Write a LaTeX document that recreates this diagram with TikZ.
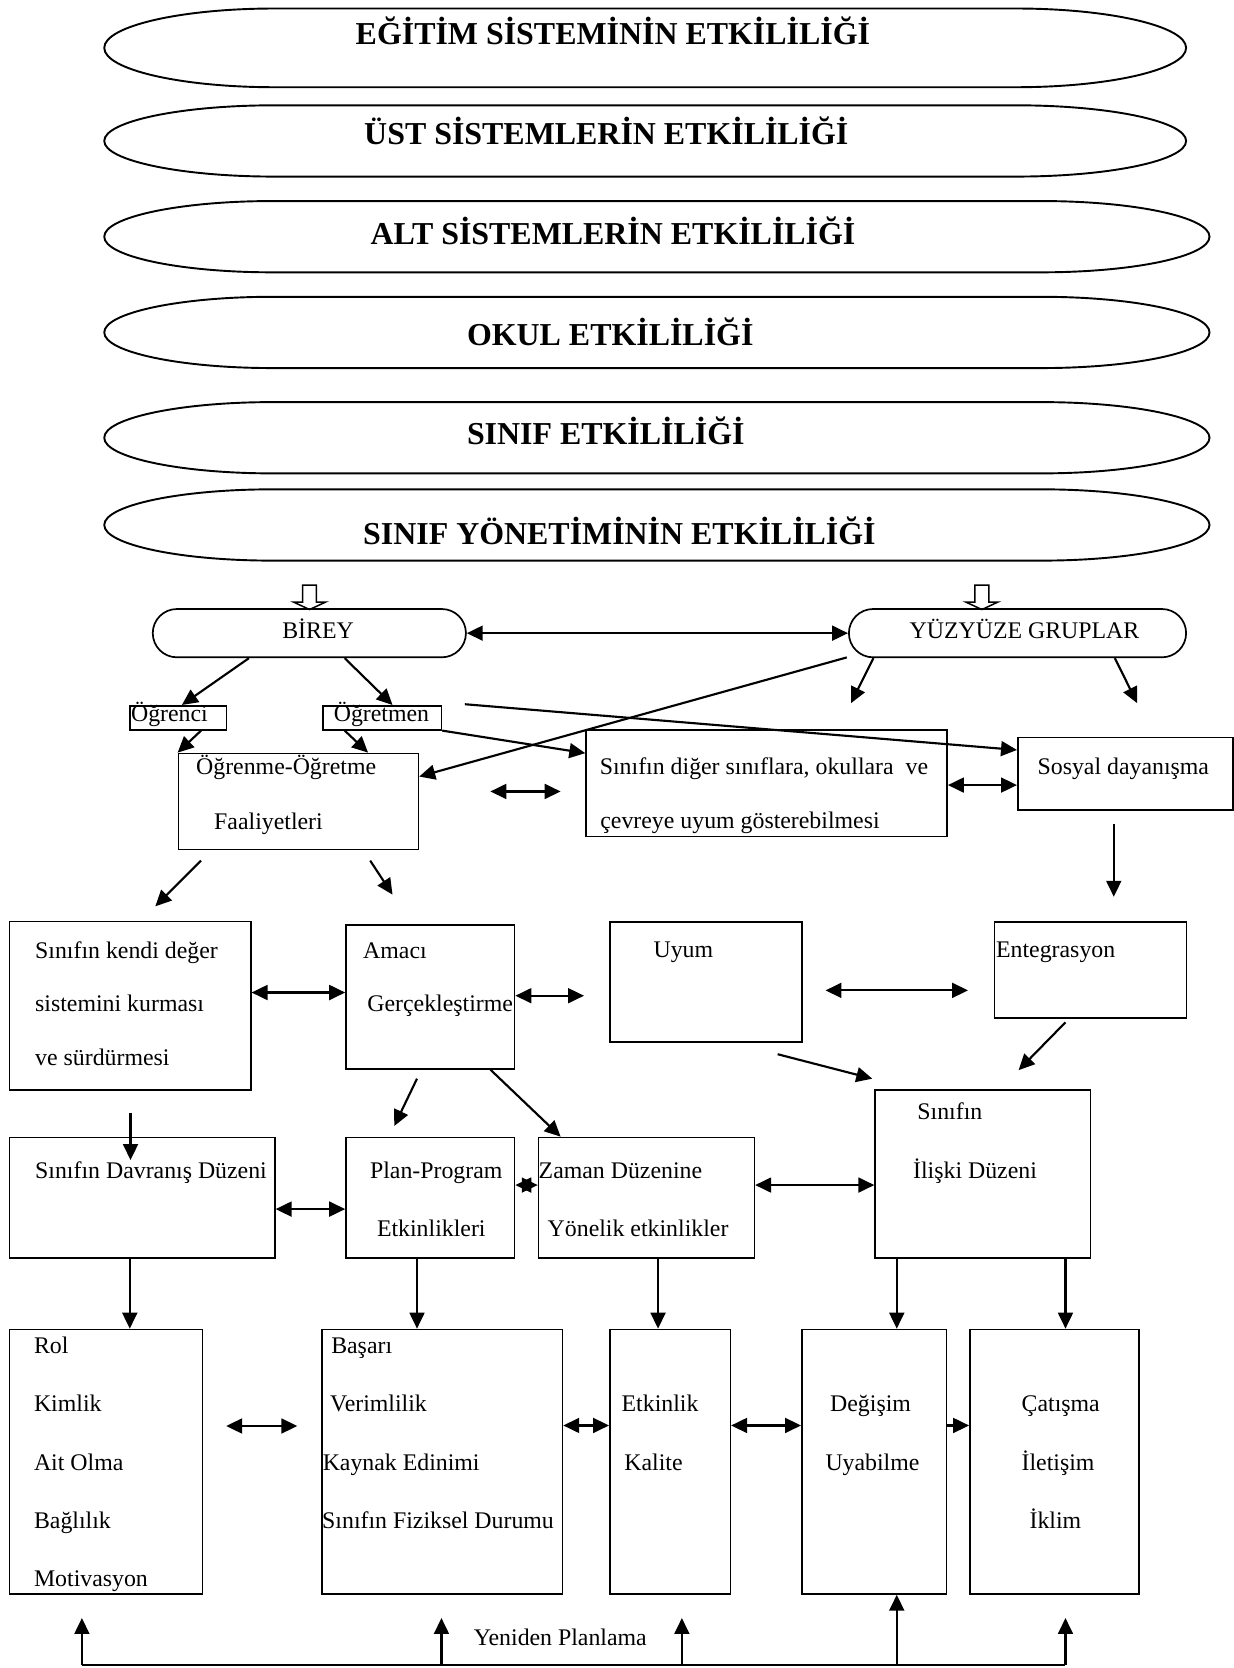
\documentclass[tikz,border=0pt]{standalone}
\usepackage{fontspec}
\setmainfont{Liberation Serif}
\usetikzlibrary{arrows.meta,shapes.misc,calc}
\tikzset{
  box/.style={draw, line width=0.75pt, inner sep=0pt, anchor=north west},
  lbl/.style={anchor=base west, inner sep=0pt, font=\fontsize{11.2pt}{13pt}\selectfont},
  ttl/.style={anchor=base west, inner sep=0pt, font=\fontsize{15pt}{18pt}\selectfont\bfseries},
  ovl/.style={line width=0.9pt},
  con/.style={line width=1pt, -{Triangle[length=7.5pt,width=7pt]}},
  dcon/.style={line width=1pt, {Triangle[length=7.5pt,width=7pt]}-{Triangle[length=7.5pt,width=7pt]}},
  hollow/.style={line width=0.7pt, fill=white},
  stad/.style={draw, rounded rectangle, line width=0.8pt, inner sep=0pt},
  plain/.style={line width=1pt},
}
\newcommand\bx[5]{\node[box, minimum width={(#4-#2)*0.5pt}, minimum height={(#5-#3)*0.5pt}] (#1) at (#2,#3) {};}
\newcommand\lb[4]{\node[lbl] (#1) at (#2,#3) {#4};}
\newcommand\tl[4]{\node[ttl] (#1) at (#2,#3) {#4};}
\newcommand\bigoval[5]{%
  \draw[ovl] ({#1+#5},#3) -- ({#2-#5},#3)
   .. controls ({#2-0.45*#5},#3) and (#2,{#3+0.224*(#4-#3)}) .. (#2,{(#3+#4)/2})
   .. controls (#2,{#4-0.224*(#4-#3)}) and ({#2-0.45*#5},#4) .. ({#2-#5},#4)
   -- ({#1+#5},#4)
   .. controls ({#1+0.45*#5},#4) and (#1,{#4-0.224*(#4-#3)}) .. (#1,{(#3+#4)/2})
   .. controls (#1,{#3+0.224*(#4-#3)}) and ({#1+0.45*#5},#3) .. cycle;}
\newcommand\harrow[2]{%
  \draw[hollow] ({#1-6.5},#2) -- ({#1+6.5},#2) -- ({#1+6.5},{#2+16}) -- ({#1+15},{#2+16})
   -- (#1,{#2+23}) -- ({#1-15},{#2+16}) -- ({#1-6.5},{#2+16}) -- cycle;}
\begin{document}
\begin{tikzpicture}[x=0.5pt,y=-0.5pt]
\useasboundingbox (0,0) rectangle (1160,1568);

% ---- top ovals ----
\bigoval{98}{1115}{8}{82}{160}
\bigoval{98}{1115}{99}{166}{160}
\bigoval{98}{1137}{189}{256}{158}
\bigoval{98}{1137}{279}{346}{158}
\bigoval{98}{1137}{378}{445}{158}
\bigoval{98}{1137}{460}{527}{158}
\tl{t1}{334}{42.3}{EĞİTİM SİSTEMİNİN ETKİLİLİĞİ}
\tl{t2}{342}{136.3}{ÜST SİSTEMLERİN ETKİLİLİĞİ}
\tl{t3}{348}{230.3}{ALT SİSTEMLERİN ETKİLİLİĞİ}
\tl{t4}{438.6}{325.2}{OKUL ETKİLİLİĞİ}
\tl{t5}{438.6}{418.3}{SINIF ETKİLİLİĞİ}
\tl{t6}{341}{512.3}{SINIF YÖNETİMİNİN ETKİLİLİĞİ}

% ---- hollow arrows ----
\harrow{291}{550}
\harrow{923}{550}

% ---- stadium nodes ----
\node[stad, minimum width=147.2pt, minimum height=22.7pt] (birey) at (290.8,595.2) {};
\node[stad, minimum width=158.5pt, minimum height=22.7pt] (yuz) at (956.5,595.2) {};
\lb{lbirey}{265}{600}{BİREY}
\lb{lyuz}{854.7}{600}{YÜZYÜZE GRUPLAR}

% ---- boxes ----
\bx{ogrenci}{121.7}{662.7}{212}{685.3}
\bx{ogretmen}{302.7}{662.7}{414.2}{685.3}
\bx{oof}{167}{707.5}{392.6}{798}
\bx{diger}{550.2}{685.3}{889.6}{785.6}
\bx{sosyal}{956}{692.5}{1158.5}{760.5}
\bx{kendi}{8.2}{865.5}{235}{1023.7}
\bx{amac}{324.5}{868.6}{483}{1004}
\bx{uyum}{572.5}{865.8}{753}{979}
\bx{enteg}{934}{865.8}{1114.7}{956}
\bx{davr}{8.2}{1068.5}{257.6}{1181.6}
\bx{plan}{324.5}{1068.5}{483}{1181.6}
\bx{zaman}{505.5}{1068.5}{708.4}{1181.6}
\bx{iliski}{821.9}{1023.7}{1024.3}{1181.6}
\bx{rol}{8.2}{1249}{189.6}{1497.6}
\bx{basari}{302}{1249}{528}{1497.6}
\bx{etk}{572.5}{1249}{685.8}{1497.6}
\bx{degis}{753}{1249}{889}{1497.6}
\bx{catis}{911}{1249}{1070}{1497.6}

% ---- labels ----
\lb{l1}{122.8}{678.4}{Öğrenci}
\lb{l2}{313.4}{678.4}{Öğretmen}
\lb{l3}{184}{728.5}{Öğrenme-Öğretme}
\lb{l4}{201}{779.6}{Faaliyetleri}
\lb{l5}{563.5}{728.5}{Sınıfın diğer sınıflara, okullara~ ve}
\lb{l6}{564}{778.6}{çevreye uyum gösterebilmesi}
\lb{l7}{975}{728.5}{Sosyal dayanışma}
\lb{l8}{32.7}{900.9}{Sınıfın kendi değer}
\lb{l9}{32.7}{951}{sistemini kurması}
\lb{l10}{32.7}{1001.5}{ve sürdürmesi}
\lb{l11}{341}{901}{Amacı}
\lb{l12}{345}{951}{Gerçekleştirme}
\lb{l13}{614}{900}{Uyum}
\lb{l14}{936}{900}{Entegrasyon}
\lb{l15}{32.7}{1107.5}{Sınıfın Davranış Düzeni}
\lb{l16}{347.5}{1107.5}{Plan-Program}
\lb{l17}{354}{1162.5}{Etkinlikleri}
\lb{l18}{506}{1107.5}{Zaman Düzenine}
\lb{l19}{514.5}{1162.5}{Yönelik etkinlikler}
\lb{l20}{862}{1052}{Sınıfın}
\lb{l21}{858}{1107.5}{İlişki Düzeni}
\lb{l22}{31.6}{1272}{Rol}
\lb{l23}{31.6}{1327}{Kimlik}
\lb{l24}{31.6}{1382}{Ait Olma}
\lb{l25}{31.6}{1436.6}{Bağlılık}
\lb{l26}{31.6}{1491.5}{Motivasyon}
\lb{l27}{311}{1272}{Başarı}
\lb{l28}{310}{1327}{Verimlilik}
\lb{l29}{303}{1382}{Kaynak Edinimi}
\lb{l30}{302.5}{1436.6}{Sınıfın Fiziksel Durumu}
\lb{l31}{584}{1327}{Etkinlik}
\lb{l32}{586.6}{1382}{Kalite}
\lb{l33}{780}{1327}{Değişim}
\lb{l34}{775.6}{1382}{Uyabilme}
\lb{l35}{960}{1327}{Çatışma}
\lb{l36}{960}{1382}{İletişim}
\lb{l37}{967.5}{1436.6}{İklim}
\lb{l38}{445}{1547}{Yeniden Planlama}

% ---- free end coordinates ----
\coordinate (a7) at (437,662);
\coordinate (a9) at (796,618);
\coordinate (e10) at (800,661);
\coordinate (e11) at (1069,661);
\coordinate (a12) at (461,744);
\coordinate (b12) at (527,744);
\coordinate (a14) at (1047,775);
\coordinate (b14) at (1047,843);
\coordinate (a15) at (189,809);
\coordinate (b15) at (146,852);
\coordinate (a16) at (348,809);
\coordinate (b16) at (369,841);
\coordinate (b18) at (549,936);
\coordinate (a19) at (776,931);
\coordinate (b19) at (910,931);
\coordinate (a20) at (1001.6,961);
\coordinate (b20) at (957.5,1006);
\coordinate (a21) at (731,991);
\coordinate (b21) at (820,1014);
\coordinate (a22) at (392,1014);
\coordinate (b22) at (370.6,1058.5);
\coordinate (a24) at (122.7,1046);
\coordinate (b24) at (122.7,1090.5);
\coordinate (a28) at (212.6,1340.5);
\coordinate (b28) at (279.5,1340.5);
\coordinate (fb1) at (77,1565);
\coordinate (fb2) at (415,1565);
\coordinate (fb3) at (641,1565);
\coordinate (fb4) at (843,1565);
\coordinate (fb5) at (1001.6,1565);
\coordinate (up1) at (77,1521);
\coordinate (up2) at (415,1521);
\coordinate (up3) at (641,1521);
\coordinate (up5) at (1001.6,1521);

% ---- connectors ----
\draw[dcon] (birey.east) -- (yuz.west);
\draw[con] (234,0 |- birey.south) -- (171,0 |- ogrenci.north);
\draw[con] (324,0 |- birey.south) -- (369,0 |- ogretmen.north);
\draw[con] (189,0 |- ogrenci.south) -- (oof.north west);
\draw[con] (324,0 |- ogretmen.south) -- (346,0 |- oof.north);
\draw[con] (a7) -- (sosyal.west |- 0,705);
\draw[con] (ogretmen.south east) -- (diger.west |- 0,708);
\draw[con] (a9) -- (oof.east |- 0,730);
\draw[con] (821,0 |- yuz.south) -- (e10);
\draw[con] (1048,0 |- yuz.south) -- (e11);
\draw[dcon] (a12) -- (b12);
\draw[dcon] (diger.east |- 0,738) -- (sosyal.west |- 0,738);
\draw[con] (a14) -- (b14);
\draw[con] (a15) -- (b15);
\draw[con] (a16) -- (b16);
\draw[dcon] (kendi.east |- 0,933) -- (amac.west |- 0,933);
\draw[dcon] (amac.east |- 0,936) -- (b18);
\draw[dcon] (a19) -- (b19);
\draw[con] (a20) -- (b20);
\draw[con] (a21) -- (b21);
\draw[con] (a22) -- (b22);
\draw[con] (461,0 |- amac.south) -- (527,0 |- zaman.north);
\draw[con] (a24) -- (b24);
\draw[dcon] (davr.east |- 0,1136.6) -- (plan.west |- 0,1136.6);
\draw[dcon] (plan.east |- 0,1114) -- (zaman.west |- 0,1114);
\draw[dcon] (zaman.east |- 0,1114) -- (iliski.west |- 0,1114);
\draw[con] (122,0 |- davr.south) -- (122,0 |- rol.north);
\draw[con] (392,0 |- plan.south) -- (392,0 |- basari.north);
\draw[con] (618.6,0 |- zaman.south) -- (618.6,0 |- etk.north);
\draw[con] (843,0 |- iliski.south) -- (843,0 |- degis.north);
\draw[con] (1001.6,0 |- iliski.south) -- (1001.6,0 |- catis.north);
\draw[dcon] (a28) -- (b28);
\draw[dcon] (basari.east |- 0,1340) -- (etk.west |- 0,1340);
\draw[dcon] (etk.east |- 0,1340) -- (degis.west |- 0,1340);
\draw[con] (degis.east |- 0,1340) -- (catis.west |- 0,1340);
\draw[plain] (fb1) -- (fb5);
\draw[con] (fb1) -- (up1);
\draw[con] (fb2) -- (up2);
\draw[con] (fb3) -- (up3);
\draw[con] (fb4) -- (degis.south -| fb4);
\draw[con] (fb5) -- (up5);
\end{tikzpicture}
\end{document}
